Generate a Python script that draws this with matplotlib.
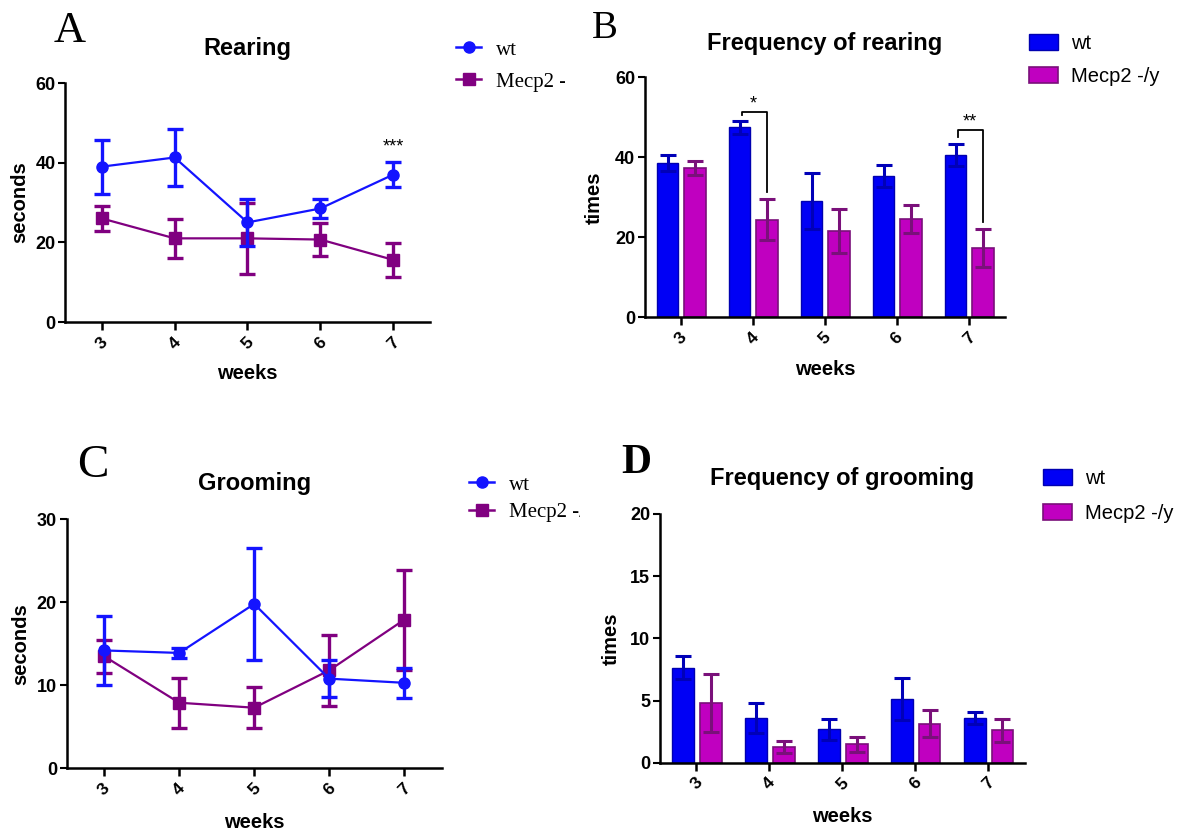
import matplotlib
matplotlib.use("Agg")
import matplotlib.pyplot as plt
from matplotlib.lines import Line2D
from matplotlib.transforms import Bbox, TransformedBbox
import numpy as np

weeks = [3, 4, 5, 6, 7]

# A - rearing time (seconds)
rear_wt = [39.0, 41.3, 25.0, 28.5, 37.0]
rear_wt_err = [6.8, 7.2, 5.8, 2.3, 3.2]
rear_ko = [26.0, 21.0, 21.0, 20.7, 15.6]
rear_ko_err = [3.1, 4.9, 9.0, 4.2, 4.3]

# B - frequency of rearing (times)
rfreq_wt = [38.6, 47.5, 29.2, 35.3, 40.6]
rfreq_wt_err = [2.0, 1.6, 7.0, 2.7, 2.8]
rfreq_ko = [37.3, 24.4, 21.7, 24.6, 17.3]
rfreq_ko_err = [1.7, 5.1, 5.5, 3.6, 4.8]
sig_weeks = [4, 7]
sig_labels = ['*', '**']
sig_heights = [51.4, 46.8]

# C - grooming time (seconds)
groom_wt = [14.2, 13.9, 19.8, 10.8, 10.3]
groom_wt_err = [4.2, 0.6, 6.7, 2.2, 1.8]
groom_ko = [13.5, 7.9, 7.3, 11.8, 17.9]
groom_ko_err = [2.0, 3.0, 2.5, 4.3, 6.0]

# D - frequency of grooming (times)
gfreq_wt = [7.65, 3.6, 2.7, 5.1, 3.6]
gfreq_wt_err = [0.95, 1.2, 0.85, 1.7, 0.5]
gfreq_ko = [4.8, 1.27, 1.5, 3.15, 2.6]
gfreq_ko_err = [2.3, 0.45, 0.6, 1.05, 0.9]

BLUE = '#1414ff'
PURPLE = '#800080'
BAR_BLUE = '#0000f5'
BAR_MAG = '#c000c0'

plt.rcParams['font.family'] = ['Liberation Sans', 'DejaVu Sans']

fig = plt.figure(figsize=(11.79, 8.32), dpi=100)
W, H = 1179.0, 832.0


def make_ax(l, r, t, b):
    return fig.add_axes([l / W, 1 - b / H, (r - l) / W, (b - t) / H])


def style(ax, ylim, yticks, ylabel, title, ylab_x, xlab_y, tpad):
    ax.set_xlim(2.5, 7.5)
    ax.set_ylim(*ylim)
    ax.set_yticks(yticks)
    ax.set_xticks(weeks)
    ax.set_xticklabels([str(w) for w in weeks], rotation=45, fontsize=12.5,
                       fontweight='bold')
    for lab in ax.get_yticklabels():
        lab.set_fontsize(13)
        lab.set_fontweight('bold')
    ax.spines['top'].set_visible(False)
    ax.spines['right'].set_visible(False)
    ax.spines['left'].set_linewidth(1.8)
    ax.spines['bottom'].set_linewidth(1.8)
    ax.tick_params(axis='y', length=5, width=1.5, pad=2)
    ax.tick_params(axis='x', length=6, width=1.8, pad=3)
    ax.set_ylabel(ylabel, fontsize=14.5, fontweight='bold')
    ax.set_xlabel('weeks', fontsize=14.5, fontweight='bold')
    ax.yaxis.set_label_coords(ylab_x, 0.5)
    ax.xaxis.set_label_coords(0.5, xlab_y)
    ax.set_title(title, fontsize=17, fontweight='bold', pad=tpad)


def line_panel(ax, wt, wt_err, ko, ko_err):
    ax.errorbar(weeks, wt, yerr=wt_err, color=BLUE, marker='o', markersize=8,
                lw=1.6, capsize=6, capthick=2.4, elinewidth=2.4, zorder=3)
    ax.errorbar(weeks, ko, yerr=ko_err, color=PURPLE, marker='s', markersize=8,
                lw=1.6, capsize=6, capthick=2.4, elinewidth=2.4, zorder=2)


def line_legend(ax, left, top, spacing, clip_x):
    handles = [Line2D([], [], color=BLUE, marker='o', markersize=8, lw=1.8),
               Line2D([], [], color=PURPLE, marker='s', markersize=8, lw=1.8)]
    leg = ax.legend(handles, ['wt', 'Mecp2 -/y'], loc='upper left',
                    bbox_to_anchor=(left / W, 1 - top / H),
                    bbox_transform=fig.transFigure, frameon=False,
                    prop={'family': 'Liberation Serif', 'size': 15},
                    handlelength=1.2, handletextpad=0.7, labelspacing=spacing,
                    borderpad=0, borderaxespad=0)
    # the original figure crops the legend text at the panel edge
    clip = TransformedBbox(Bbox([[0, 0], [clip_x / W, 1]]), fig.transFigure)
    for t in leg.get_texts():
        t.set_clip_box(clip)
        t.set_clip_on(True)


def bar_panel(ax, wt, wt_err, ko, ko_err):
    x = np.array(weeks, dtype=float)
    ax.bar(x - 0.185, wt, width=0.3, color=BAR_BLUE, edgecolor='#0000b0',
           linewidth=1, label='wt')
    ax.bar(x + 0.195, ko, width=0.3, color=BAR_MAG, edgecolor='#7a107a',
           linewidth=1.2, label='Mecp2 -/y')
    ax.errorbar(x - 0.185, wt, yerr=wt_err, fmt='none', ecolor='#0000b8',
                elinewidth=2.2, capsize=5.5, capthick=2.2)
    ax.errorbar(x + 0.195, ko, yerr=ko_err, fmt='none', ecolor='#7a107a',
                elinewidth=2.2, capsize=5.5, capthick=2.2)


def bar_legend(ax, left, top, spacing):
    ax.legend(loc='upper left', bbox_to_anchor=(left / W, 1 - top / H),
              bbox_transform=fig.transFigure, frameon=False,
              prop={'family': 'Liberation Sans', 'size': 14.5},
              handlelength=1.45, handleheight=0.85, handletextpad=0.62,
              labelspacing=spacing, borderpad=0, borderaxespad=0)


# A
axA = make_ax(65.3, 429.7, 83, 322)
line_panel(axA, rear_wt, rear_wt_err, rear_ko, rear_ko_err)
style(axA, (0, 60), [0, 20, 40, 60], 'seconds', 'Rearing', -0.098, -0.177, 20.2)
axA.text(7, 44.0, '***', ha='center', va='center', fontsize=13)
line_legend(axA, 456, 40, 0.6, 565)

# B
axB = make_ax(645, 1005, 77.3, 317.3)
bar_panel(axB, rfreq_wt, rfreq_wt_err, rfreq_ko, rfreq_ko_err)
style(axB, (0, 60), [0, 20, 40, 60], 'times', 'Frequency of rearing',
      -0.115, -0.18, 20)
for wk, lab, hgt in zip(sig_weeks, sig_labels, sig_heights):
    i = weeks.index(wk)
    left_end = min(rfreq_wt[i] + rfreq_wt_err[i] + 1.7, hgt - 0.8)
    right_end = rfreq_ko[i] + rfreq_ko_err[i] + 1.8
    axB.plot([wk - 0.15, wk - 0.15, wk + 0.2, wk + 0.2],
             [left_end, hgt, hgt, right_end], color='black', lw=1.3)
    axB.text(wk + 0.01, hgt + 2.0, lab, ha='center', va='center', fontsize=13)
bar_legend(axB, 1029, 34, 0.68)

# C
axC = make_ax(66.7, 441.7, 519.3, 768.3)
line_panel(axC, groom_wt, groom_wt_err, groom_ko, groom_ko_err)
style(axC, (0, 30), [0, 10, 20, 30], 'seconds', 'Grooming', -0.098, -0.18, 21.3)
line_legend(axC, 469, 475, 0.37, 580)

# D
axD = make_ax(660, 1024.7, 514, 762.7)
bar_panel(axD, gfreq_wt, gfreq_wt_err, gfreq_ko, gfreq_ko_err)
style(axD, (0, 20), [0, 5, 10, 15, 20], 'times', 'Frequency of grooming',
      -0.108, -0.178, 21.1)
bar_legend(axD, 1043, 469, 0.78)

# panel letters
fig.text(54 / W, 1 - 42 / H, 'A', fontsize=32, family='Liberation Serif')
fig.text(592 / W, 1 - 38 / H, 'B', fontsize=28, family='Liberation Serif')
fig.text(77 / W, 1 - 477 / H, 'C', fontsize=34, family='Liberation Serif')
fig.text(621 / W, 1 - 473 / H, 'D', fontsize=30, family='Liberation Serif',
         fontweight='bold')

fig.savefig('out.png', dpi=100)
